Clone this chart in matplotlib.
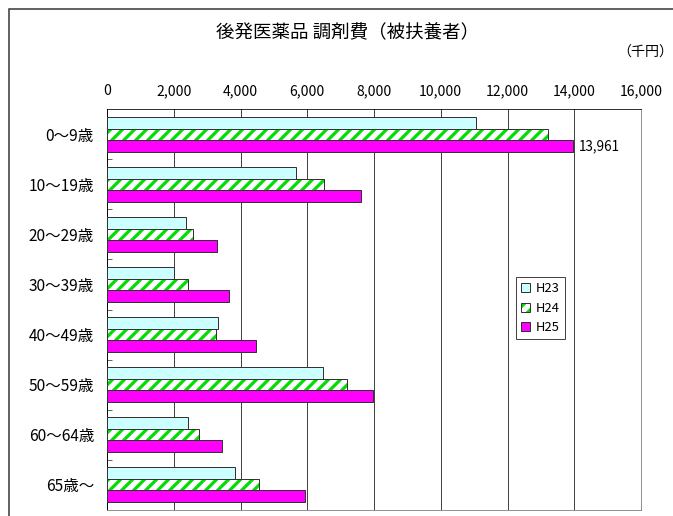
import matplotlib
matplotlib.use("Agg")
import matplotlib.pyplot as plt
import numpy as np
from matplotlib.patches import Patch, Rectangle
from matplotlib.legend_handler import HandlerTuple

plt.rcParams["font.family"] = ["Noto Sans CJK JP", "DejaVu Sans"]
plt.rcParams["hatch.linewidth"] = 3.2

# data (千円)
ages = ["0～9歳", "10～19歳", "20～29歳", "30～39歳", "40～49歳", "50～59歳", "60～64歳", "65歳～"]
h23 = [11060, 5670, 2370, 2000, 3320, 6470, 2440, 3850]
h24 = [13220, 6500, 2590, 2440, 3270, 7200, 2770, 4540]
h25 = [13961, 7620, 3290, 3660, 4460, 7970, 3460, 5940]
series_names = ["H23", "H24", "H25"]
xticks = list(range(0, 16001, 2000))

W, H = 673, 516
fig = plt.figure(figsize=(W / 72, H / 72), dpi=72)
ax = fig.add_axes([107 / W, 1 - 509.5 / H, 534 / W, 400 / H])

y = np.arange(len(ages))
h = 0.23
edge = "#333333"
green = "#00DD00"

ax.barh(y - h, h23, height=h, color="#CCFFFF", edgecolor=edge, linewidth=1, zorder=3)
ax.barh(y, h24, height=h, color="white", edgecolor=green, hatch="//", linewidth=0, zorder=3)
ax.barh(y, h24, height=h, fill=False, edgecolor=edge, linewidth=1, zorder=4)
ax.barh(y + h, h25, height=h, color="#FF00FF", edgecolor=edge, linewidth=1, zorder=3)

ax.text(h25[0] + 180, y[0] + h, f"{h25[0]:,}", va="center", ha="left", fontsize=13.5)

ax.set_xlim(0, 16000)
ax.set_ylim(len(ages) - 0.5, -0.5)
ax.set_xticks(xticks)
ax.set_xticklabels([f"{v:,}" for v in xticks], fontsize=14)
ax.xaxis.tick_top()
ax.tick_params(axis="x", length=0, pad=11)
ax.grid(axis="x", color="#444444", linewidth=1, zorder=0)

ax.set_yticks(y)
ax.set_yticklabels(ages, fontsize=15.5)
ax.set_yticks(np.arange(0.5, len(ages) - 0.5, 1), minor=True)
ax.tick_params(axis="y", which="major", length=0, pad=13)
ax.tick_params(axis="y", which="minor", direction="in", length=5, color="black")

for side in ["top", "left"]:
    ax.spines[side].set_color("black")
for side in ["right", "bottom"]:
    ax.spines[side].set_color("#777777")

fig.text(348 / W, 1 - 33 / H, "後発医薬品 調剤費（被扶養者）", ha="center", va="center", fontsize=18.5)
fig.text(1.0, 1 - 53 / H, "（千円）", ha="right", va="center", fontsize=14)

# legend
p23 = Patch(facecolor="#CCFFFF", edgecolor=edge)
p24a = Patch(facecolor="white", edgecolor=green, hatch="//", linewidth=0)
p24b = Patch(fill=False, edgecolor=edge)
p25 = Patch(facecolor="#FF00FF", edgecolor=edge)
leg = fig.legend([p23, (p24a, p24b), p25], series_names,
                 handler_map={tuple: HandlerTuple(ndivide=1, pad=0)},
                 loc="upper left", bbox_to_anchor=(516 / W, 1 - 277 / H),
                 fontsize=13, frameon=True, fancybox=False, framealpha=1,
                 edgecolor="#444444", handlelength=0.7, handleheight=0.7,
                 handletextpad=0.45, borderpad=0.4, labelspacing=0.5,
                 borderaxespad=0)
leg.get_frame().set_linewidth(1)

# outer chart frame
fig.patches.append(Rectangle((9 / W, -0.1), 1.2, 1 - 9 / H + 0.1, transform=fig.transFigure,
                             fill=False, edgecolor="#333333", linewidth=1.5))

fig.savefig("out.png", dpi=72)
